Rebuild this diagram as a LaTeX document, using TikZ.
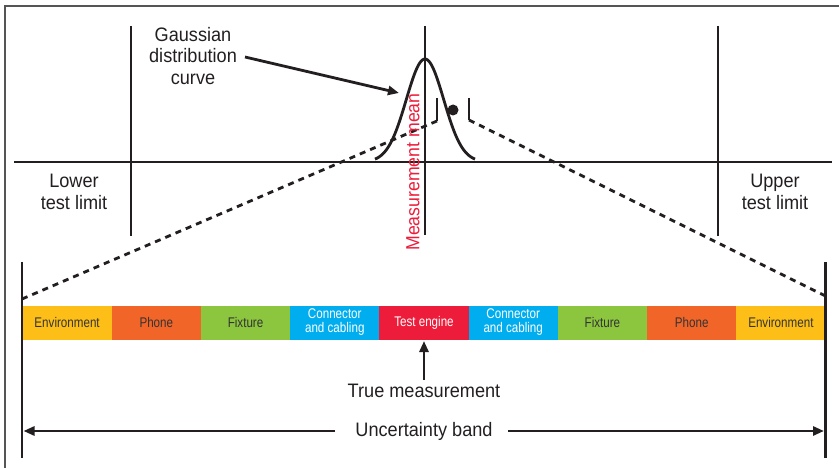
\documentclass[tikz,border=0pt]{standalone}
\usepackage{fontspec}
\setmainfont{Liberation Sans}
\newfontfamily\labfont[FakeStretch=0.93]{Liberation Sans}
\newfontfamily\barfont[FakeStretch=0.83]{Liberation Sans}
\usetikzlibrary{arrows.meta}
\definecolor{cEnv}{HTML}{FDBF17}
\definecolor{cPhone}{HTML}{F26529}
\definecolor{cFix}{HTML}{8CC63F}
\definecolor{cCon}{HTML}{00AEEF}
\definecolor{cTest}{HTML}{ED1C3A}
\definecolor{ink}{HTML}{231F20}
\definecolor{bartext}{HTML}{333333}
\definecolor{framec}{HTML}{555555}
\tikzset{
  heavy/.style={line width=2.8pt, draw=ink},
  dashline/.style={line width=2.8pt, draw=ink},
  lbl/.style={font=\labfont\fontsize{19.5}{21.5}\selectfont, align=center, text=ink, inner sep=0pt},
  seg/.style={minimum width=89.222pt, minimum height=34pt, inner sep=0pt, outer sep=0pt,
    font=\barfont\fontsize{14}{14}\selectfont, align=center, anchor=north west},
  tip/.style={-{Triangle[length=11pt,width=9pt]}},
}
\begin{document}
\begin{tikzpicture}[x=1pt,y=-1pt]
\useasboundingbox (0,0) rectangle (839,468);
% frame
\draw[framec, line width=1.3pt] (5,470) -- (5,6) -- (841,6);
% axis and verticals
\coordinate (ax1) at (14,162);
\coordinate (ax2) at (832,162);
\coordinate (lt) at (131,26);
\coordinate (lb) at (131,236);
\coordinate (rt) at (718,26);
\coordinate (rb) at (718,236);
\coordinate (mt) at (425,26);
\coordinate (mb) at (425,235);
\draw[heavy] (ax1) -- (ax2);
\draw[heavy] (lt) -- (lb);
\draw[heavy] (rt) -- (rb);
\draw[heavy] (mt) -- (mb);
% gaussian
\draw[heavy, line join=round] plot[domain=-50:50, samples=101, smooth]
  ({425+\x},{162-103*exp(-(\x*\x)/(2*18.7*18.7))});
% ticks and dot
\coordinate (t1t) at (437,98);
\coordinate (t1b) at (437,121);
\coordinate (t2t) at (469,98);
\coordinate (t2b) at (469,120);
\draw[heavy] (t1t) -- (t1b);
\draw[heavy] (t2t) -- (t2b);
\fill[ink] (453,110) circle (5.5pt);
% dashed lines
\coordinate (dl) at (22,299);
\coordinate (dr) at (825.5,296);
\draw[dashline, dash pattern=on 6pt off 5.14pt] (t1b) -- (dl);
\draw[dashline, dash pattern=on 6pt off 5.19pt] (t2b) -- (dr);
% bar
\foreach \lab/\col/\tc [count=\i] in {
  Environment/cEnv/bartext,
  Phone/cPhone/bartext,
  Fixture/cFix/bartext,
  {Connector\\and cabling}/cCon/white,
  Test engine/cTest/white,
  {Connector\\and cabling}/cCon/white,
  Fixture/cFix/bartext,
  Phone/cPhone/bartext,
  Environment/cEnv/bartext}
{
  \node[seg, fill=\col, text=\tc] (s\i) at ({22.5+(\i-1)*89.222},305.5) {\lab};
}
% long verticals
\coordinate (llt) at (22,262);
\coordinate (llb) at (22,458);
\coordinate (lrt) at (825.5,262);
\coordinate (lrb) at (825.5,458);
\draw[heavy] (llt) -- (llb);
\draw[heavy] (lrt) -- (lrb);
% labels
\node[lbl] (gauss) at (193,56) {Gaussian\\distribution\\curve};
\coordinate (gs) at (245,57);
\coordinate (gtip) at (399,93);
\draw[heavy, tip] (gs) -- (gtip);
\node[lbl] (lower) at (74,192) {Lower\\test limit};
\node[lbl] (upper) at (775,192) {Upper\\test limit};
\node[lbl, text=cTest, rotate=90, font=\labfont\fontsize{19}{20}\selectfont] (mean) at (413,172) {Measurement mean};
\node[lbl] (true) at (424,391) {True measurement};
\coordinate (tb) at (424,380);
\coordinate (tt) at (424,341);
\draw[heavy, tip] (tb) -- (tt);
\node[lbl] (unc) at (424,431) {Uncertainty band};
\coordinate (ul1) at (335,431);
\coordinate (ul2) at (23.5,431);
\coordinate (ur1) at (508,431);
\coordinate (ur2) at (824,431);
\draw[heavy, tip] (ul1) -- (ul2);
\draw[heavy, tip] (ur1) -- (ur2);
\end{tikzpicture}
\end{document}
